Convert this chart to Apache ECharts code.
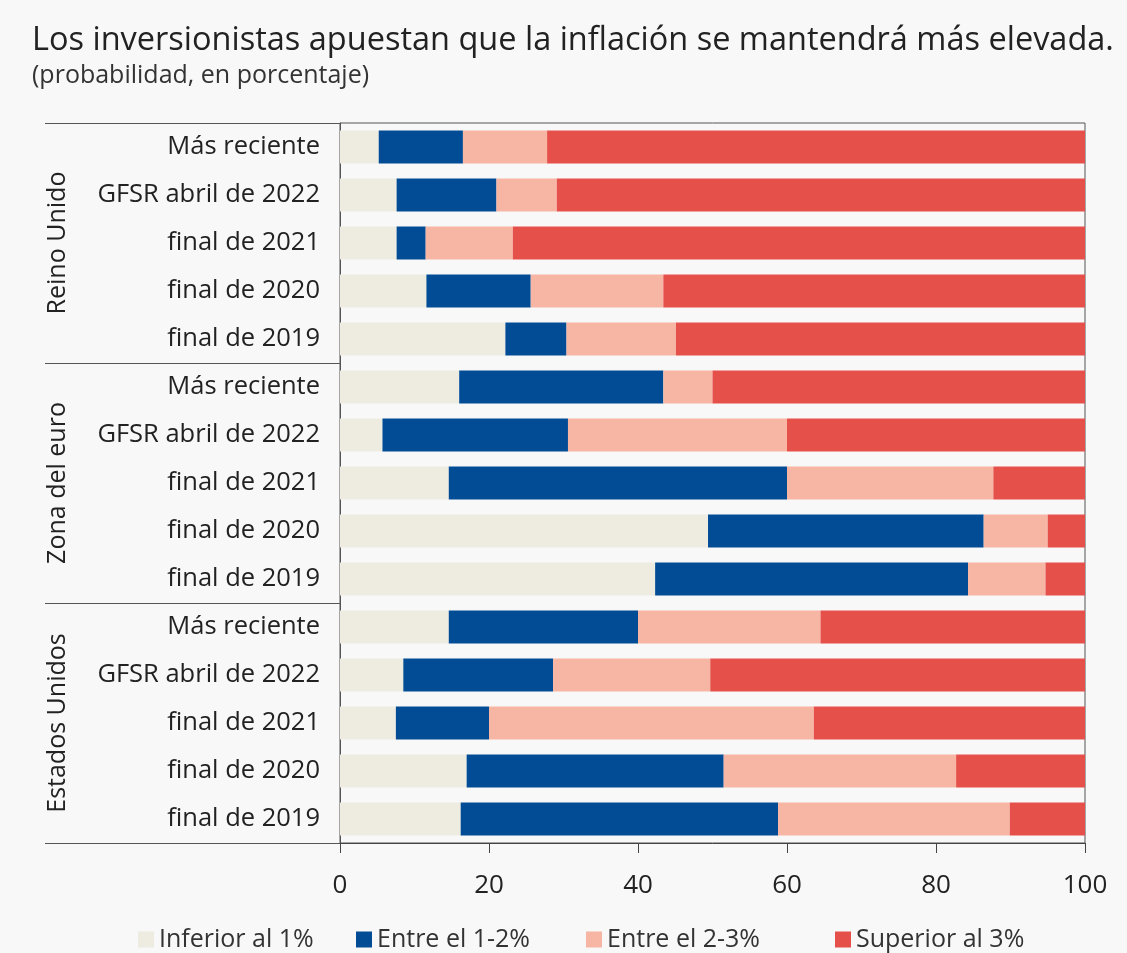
<!DOCTYPE html>
<html>
<head>
<meta charset="utf-8">
<script src="https://cdn.jsdelivr.net/npm/echarts@6/dist/echarts.min.js"></script>
<style>
  html, body { margin: 0; padding: 0; background: #f8f8f8; }
  #chart { width: 1127px; height: 953px; }
</style>
</head>
<body>
<div id="chart"></div>
<script>
  // rows, top to bottom
  const rowLabels = [
    "Más reciente", "GFSR abril de 2022", "final de 2021", "final de 2020", "final de 2019",
    "Más reciente", "GFSR abril de 2022", "final de 2021", "final de 2020", "final de 2019",
    "Más reciente", "GFSR abril de 2022", "final de 2021", "final de 2020", "final de 2019",
  ];
  const groups = ["Reino Unido", "Zona del euro", "Estados Unidos"];

  const seriesNames = ["Inferior al 1%", "Entre el 1-2%", "Entre el 2-3%", "Superior al 3%"];
  const below1 = [5.2, 7.6, 7.6, 11.6, 22.2, 16.0, 5.7, 14.6, 49.4, 42.3, 14.6, 8.5, 7.5, 17.0, 16.2];
  const from1to2 = [11.3, 13.4, 3.9, 14.0, 8.2, 27.4, 24.9, 45.4, 37.0, 42.0, 25.4, 20.1, 12.5, 34.5, 42.6];
  const from2to3 = [11.3, 8.1, 11.7, 17.8, 14.7, 6.6, 29.4, 27.7, 8.6, 10.4, 24.5, 21.1, 43.6, 31.2, 31.1];
  const above3 = [72.2, 70.9, 76.8, 56.6, 54.9, 50.0, 40.0, 12.3, 5.0, 5.3, 35.5, 50.3, 36.4, 17.3, 10.1];

  const xTicks = [0, 20, 40, 60, 80, 100];
  const colors = ["#eeebe0", "#014c95", "#f7b5a4", "#e5514a"];

  const font = "'Open Sans', sans-serif";
  const chart = echarts.init(document.getElementById("chart"));

  const stacks = [below1, from1to2, from2to3, above3];
  // legend items are spaced unevenly in the original
  const legendLeft = [133, 351, 581, 830];

  chart.setOption({
    backgroundColor: "#f8f8f8",
    animation: false,
    color: colors,
    title: {
      text: "Los inversionistas apuestan que la inflación se mantendrá más elevada.",
      subtext: "(probabilidad, en porcentaje)",
      left: 27,
      top: 19,
      itemGap: 6,
      textStyle: { fontFamily: font, fontSize: 32.5, fontWeight: "normal", color: "#222" },
      subtextStyle: { fontFamily: font, fontSize: 25, color: "#333" },
    },
    legend: seriesNames.map((name, i) => ({
      data: [name],
      left: legendLeft[i],
      top: 922,
      icon: "rect",
      itemWidth: 16,
      itemHeight: 16,
      textStyle: { fontFamily: font, fontSize: 25, color: "#333" },
    })),
    grid: {
      left: 340,
      right: 42,
      top: 123,
      bottom: 110,
      show: true,
      borderColor: "#555",
      borderWidth: 1,
      backgroundColor: "transparent",
    },
    xAxis: {
      type: "value",
      min: 0,
      max: 100,
      interval: 20,
      splitLine: { show: false },
      axisLine: { show: true, lineStyle: { color: "#444" } },
      axisTick: { show: true, length: 10, lineStyle: { color: "#444" } },
      axisLabel: {
        fontFamily: font,
        fontSize: 26,
        color: "#222",
        margin: 30,
        formatter: (v) => (xTicks.includes(v) ? String(v) : ""),
      },
    },
    yAxis: [
      {
        type: "category",
        inverse: true,
        data: rowLabels,
        axisLine: { show: true, lineStyle: { color: "#555" } },
        axisTick: { show: false },
        axisLabel: { fontFamily: font, fontSize: 25.5, color: "#222", margin: 20 },
      },
      {
        // country groups: rotated names + separator lines
        type: "category",
        inverse: true,
        position: "left",
        offset: 295,
        data: groups,
        axisLine: { show: false },
        axisTick: { show: true, inside: true, length: 295, lineStyle: { color: "#555" } },
        axisLabel: {
          inside: true,
          rotate: 90,
          margin: 0,
          fontFamily: font,
          fontSize: 25,
          color: "#222",
        },
      },
    ],
    series: stacks.map((vals, i) => ({
      name: seriesNames[i],
      type: "bar",
      stack: "total",
      yAxisIndex: 0,
      barCategoryGap: "31%",
      data: vals,
      itemStyle: { color: colors[i] },
    })),
  });
</script>
</body>
</html>
